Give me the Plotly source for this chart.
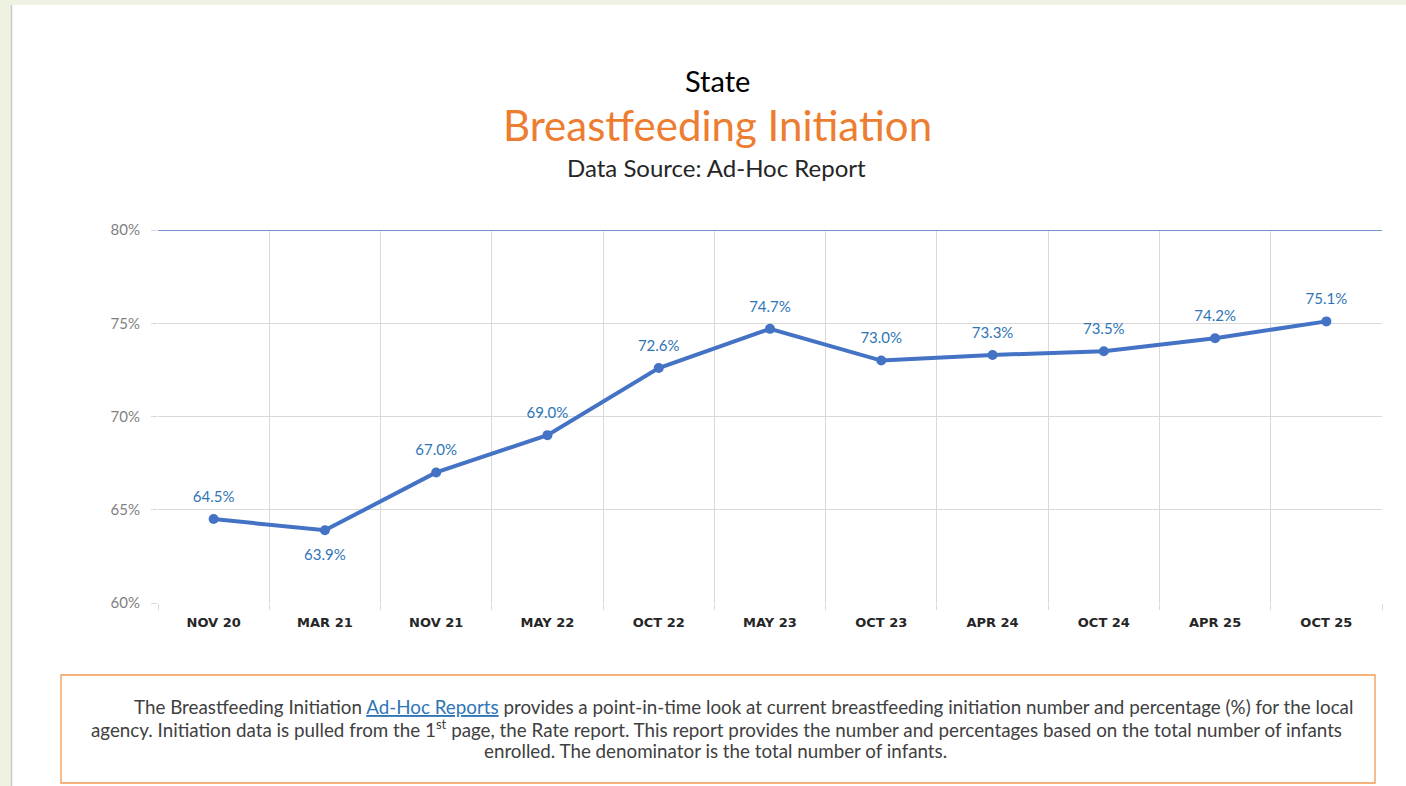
import plotly.graph_objects as go

categories = ["NOV 20", "MAR 21", "NOV 21", "MAY 22", "OCT 22", "MAY 23",
              "OCT 23", "APR 24", "OCT 24", "APR 25", "OCT 25"]
values = [64.5, 63.9, 67.0, 69.0, 72.6, 74.7, 73.0, 73.3, 73.5, 74.2, 75.1]
label_pos = ["top center", "bottom center"] + ["top center"] * 9
y_ticks = [60, 65, 70, 75, 80]
y_ticktext = ["60%", "65%", "70%", "75%", "80%"]

W, H = 1406, 786
L, R, T, B = 158, 24, 230, 183
PW, PH = W - L - R, H - T - B


def px(x):
    return (x - L) / PW


def py(y):
    return (H - B - y) / PH


fig = go.Figure()
# data labels (invisible larger markers give label offset), drawn beneath the line
fig.add_trace(go.Scatter(
    x=categories, y=values, mode="markers+text",
    marker=dict(color="rgba(0,0,0,0)", size=[20, 28] + [20] * 9, line=dict(width=0)),
    text=[f"{v:.1f}%" for v in values],
    textposition=label_pos,
    textfont=dict(family="Lato", size=15, color="#2E75B6"),
    hoverinfo="skip", cliponaxis=False, showlegend=False,
))
fig.add_trace(go.Scatter(
    x=categories, y=values, mode="lines+markers",
    line=dict(color="#4472C4", width=4),
    marker=dict(color="#4472C4", size=10, line=dict(width=0)),
    hoverinfo="skip", cliponaxis=False, showlegend=False,
))

shapes = [
    dict(type="rect", xref="paper", yref="paper", x0=px(0), x1=px(W), y0=py(0), y1=py(H),
         fillcolor="#EEF2E2", line=dict(width=0), layer="below"),
    dict(type="rect", xref="paper", yref="paper", x0=px(12), x1=px(W), y0=py(5), y1=py(H),
         fillcolor="white", line=dict(width=0), layer="below"),
    dict(type="line", xref="paper", yref="paper", x0=px(11.5), x1=px(11.5), y0=py(5), y1=py(H),
         line=dict(color="#C9CBC4", width=1.5)),
    dict(type="line", xref="paper", yref="y", x0=0, x1=1, y0=80, y1=80,
         line=dict(color="#4472C4", width=1.3)),
    dict(type="rect", xref="paper", yref="paper", x0=px(61), x1=px(1375), y0=py(675), y1=py(783),
         line=dict(color="#F2994F", width=1.3), fillcolor="rgba(0,0,0,0)"),
]

body_font = dict(family="Lato", size=18.8, color="#404040")
annotations = [
    dict(text="State", x=px(717), y=py(81), xref="paper", yref="paper", showarrow=False,
         font=dict(family="Lato", size=29, color="#000000"), xanchor="center", yanchor="middle"),
    dict(text="Breastfeeding Initiation", x=px(717), y=py(125), xref="paper", yref="paper",
         showarrow=False, font=dict(family="Lato", size=42, color="#ED7D31"),
         xanchor="center", yanchor="middle"),
    dict(text="Data Source: Ad-Hoc Report", x=px(716), y=py(167), xref="paper", yref="paper",
         showarrow=False, font=dict(family="Lato", size=24, color="#262626"),
         xanchor="center", yanchor="middle"),
    dict(text="The Breastfeeding Initiation <span style='color:#2E75B6'><u>Ad-Hoc Reports</u></span> "
              "provides a point-in-time look at current breastfeeding initiation number and "
              "percentage (%) for the local",
         x=px(743), y=py(706), xref="paper", yref="paper", showarrow=False, font=body_font,
         xanchor="center", yanchor="middle"),
    dict(text="agency. Initiation data is pulled from the 1<sup>st</sup> page, the Rate report. "
              "This report provides the number and percentages based on the total number of infants",
         x=px(716), y=py(728), xref="paper", yref="paper", showarrow=False, font=body_font,
         xanchor="center", yanchor="middle"),
    dict(text="enrolled. The denominator is the total number of infants.",
         x=px(715), y=py(750), xref="paper", yref="paper", showarrow=False, font=body_font,
         xanchor="center", yanchor="middle"),
]

fig.update_layout(
    width=W, height=H,
    margin=dict(l=L, r=R, t=T, b=B, pad=0),
    paper_bgcolor="white", plot_bgcolor="white",
    shapes=shapes, annotations=annotations,
    xaxis=dict(type="category", range=[-0.5, 10.5], tickson="boundaries",
               showgrid=True, gridcolor="#D9D9D9", gridwidth=1,
               ticks="outside", ticklen=6, tickcolor="#D9D9D9",
               showline=False, zeroline=False, ticklabelstandoff=10,
               tickfont=dict(family="DejaVu Sans", size=13, color="#262626", weight="bold")),
    yaxis=dict(range=[60, 80], tickvals=y_ticks, ticktext=y_ticktext,
               showgrid=True, gridcolor="#D9D9D9", gridwidth=1,
               ticks="outside", ticklen=6, tickcolor="#D9D9D9",
               showline=False, zeroline=False, ticklabelstandoff=8,
               tickfont=dict(family="Lato", size=15, color="#7F7F7F")),
    font=dict(family="Lato"),
)

fig.write_html("out.html", config={"displayModeBar": False},
               post_script="document.body.style.margin='0';document.body.style.overflow='hidden';")
